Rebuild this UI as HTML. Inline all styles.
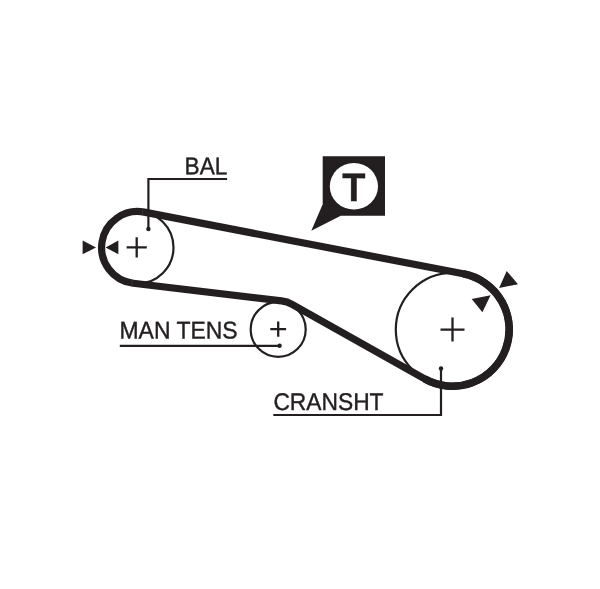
<!DOCTYPE html>
<html><head><meta charset="utf-8"><title>Timing belt diagram</title>
<style>
html,body{margin:0;padding:0;background:#fff;}
body{width:600px;height:589px;overflow:hidden;}
svg{display:block;will-change:transform;}
text{text-rendering:geometricPrecision;font-family:"Liberation Sans",Arial,Helvetica,sans-serif;fill:#231f20;stroke:#231f20;stroke-width:0.4px;}
</style></head>
<body>
<svg width="600" height="589" viewBox="0 0 600 589">
<rect width="600" height="589" fill="#fff"/>
<!-- pulleys -->
<g fill="none" stroke="#231f20" stroke-width="2.2">
<circle cx="137.5" cy="247.5" r="36"/>
<circle cx="452.5" cy="329.5" r="56.7"/>
<circle cx="278.2" cy="329.4" r="27.5"/>
</g>
<!-- belt -->
<path d="M 144.34 212.15 L 463.27 273.83 A 56.70 56.70 0 1 1 424.71 378.92 L 292.07 304.33 A 28.30 28.30 0 0 0 281.54 300.90 L 133.25 283.25 A 36.00 36.00 0 1 1 144.34 212.15 Z" fill="none" stroke="#231f20" stroke-width="7.2" stroke-linejoin="round"/>
<path d="M 463.27 273.83 A 56.70 56.70 0 1 1 424.71 378.92" fill="none" stroke="#231f20" stroke-width="7.6"/>
<path d="M132 279.6V287M142.5 208.6V215.6" fill="none" stroke="#444" stroke-width="0.5"/>
<!-- centre crosses -->
<g stroke="#231f20" stroke-width="2.3" fill="none">
<path d="M126.6 247.4H146.8M136.7 237.2V257.6"/>
<path d="M440.5 329.6H464.5M452.5 317.6V341.6"/>
<path d="M270.3 329.1H286.1M278.2 321.5V336.7"/>
</g>
<!-- leader lines -->
<g stroke="#231f20" stroke-width="2.2" fill="none">
<path d="M227.1 179H148.4V229"/>
<path d="M119.8 345.8H279.6"/>
<path d="M273.3 415H441V368.4"/>
</g>
<g fill="#231f20">
<circle cx="148.4" cy="229" r="2.2"/>
<circle cx="279.6" cy="345.8" r="2.2"/>
<circle cx="441" cy="368.4" r="2.2"/>
<!-- arrows -->
<path d="M82.6 240.6L96 247.4L82.6 254.2Z"/>
<path d="M118.4 240.6L105.6 247.4L118.4 254.2Z"/>
<path d="M506.7 270.9L518 284.3L499.1 288Z"/>
<path d="M471.7 298.9L490.6 295.2L482.4 312.3Z"/>
<!-- T badge -->
<path d="M322.7 156.3H385V215.8H340.8L311.3 230.8L322.7 204.2Z"/>
</g>
<ellipse cx="353.9" cy="186.3" rx="24.1" ry="23.3" fill="#fff"/>
<text transform="translate(353.85 201.1) scale(0.955 1) rotate(0.03)" font-size="39.7" font-weight="bold" text-anchor="middle" stroke="none">T</text>
<text transform="translate(184.6 174.3) scale(0.935 1) rotate(0.03)" font-size="24.2">BAL</text>
<text transform="translate(119.5 338.4) scale(0.948 1) rotate(0.03)" font-size="24.2">MAN TENS</text>
<text transform="translate(273.4 410.0) scale(0.942 1) rotate(0.03)" font-size="24.2">CRANSHT</text>
</svg>
</body></html>
